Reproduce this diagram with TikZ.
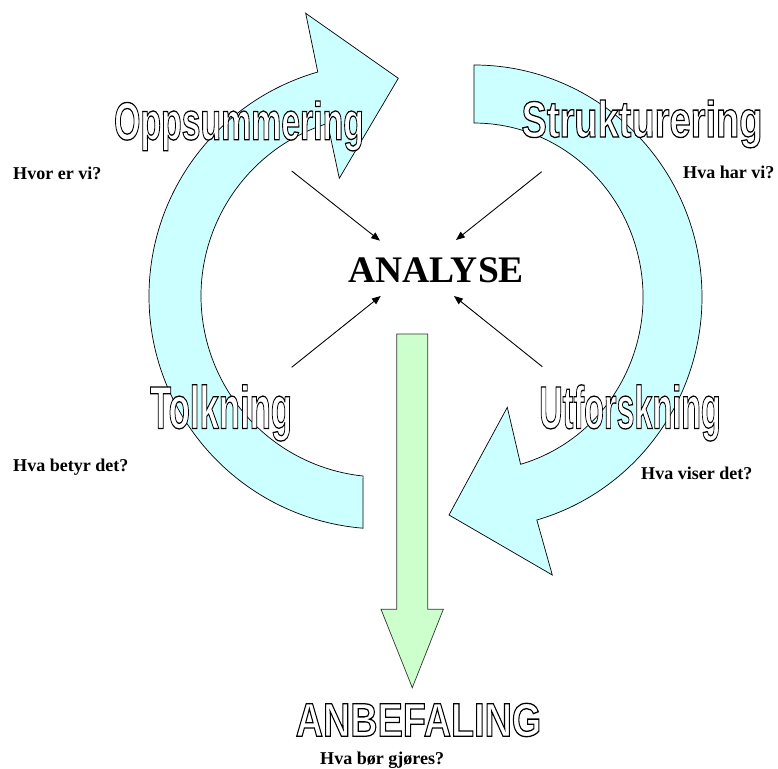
\documentclass[tikz,border=0pt]{standalone}
\usepackage{fontspec}
\setmainfont{Liberation Serif}
\newfontfamily\wordartfont{Liberation Sans}
\usetikzlibrary{arrows.meta}

\definecolor{loopcyan}{HTML}{CCFFFF}
\definecolor{downgreen}{HTML}{CCFFCC}

\tikzset{
  loopshape/.style={draw=black, line width=0.6pt, fill=loopcyan, line join=miter},
  downshape/.style={draw=black!80, line width=0.6pt, fill=downgreen},
  pointer/.style={draw=black, line width=0.75pt, -{Triangle[length=7.5pt,width=6pt]}},
  question/.style={inner sep=0pt, font=\fontsize{15.4pt}{16pt}\selectfont\bfseries},
  centretitle/.style={inner sep=0pt, font=\fontsize{32pt}{34pt}\selectfont\bfseries},
  wordart/.style={inner sep=0pt, font=\wordartfont\bfseries},
}

% hollow letters: text render mode 2 (fill white, stroke black)
\newcommand\rimmedword[5]{% name, position, font size, horizontal scale, text
  \node[wordart] (#1) at (#2)
    {\special{pdf:literal direct q 2 Tr 1.1 w 0 G 1 g}%
     \scalebox{#4}[1]{\fontsize{#3}{#3}\selectfont #5}%
     \special{pdf:literal direct Q}};
}

\begin{document}
\begin{tikzpicture}[x=0.03cm, y=-0.03cm]
  \useasboundingbox[fill=white] (0,0) rectangle (778,769);

  % left curved arrow, running up and to the right
  \draw[loopshape] (362.9,528.2)
    arc[start angle=94.7, end angle=254, radius=233]
    -- (305.7,13.3) -- (398.3,78.3) -- (339.3,178.3)
    -- (327.6,123.4)
    arc[start angle=252.5, end angle=96, radius=181]
    -- cycle;

  % right curved arrow, running down and to the left
  \draw[loopshape] (474,65)
    arc[start angle=-90, end angle=74, x radius=228, y radius=232]
    -- (552.3,575) -- (449,515) -- (507.3,407.3)
    -- (520.6,464.3)
    arc[start angle=74, end angle=-90, x radius=169, y radius=174]
    -- cycle;

  % downward block arrow
  \draw[downshape] (396.7,334) -- (427.7,334) -- (427.7,609.3)
    -- (443.3,609.3) -- (412.3,687.7) -- (381,609.3)
    -- (396.7,609.3) -- cycle;

  % centre word
  \node[centretitle] (analyse) at (436,270) {ANALYSE};

  % pointers towards the centre
  \coordinate (tlstart) at (291.7,171);
  \coordinate (tlend)   at (380,240.7);
  \coordinate (trstart) at (541.7,171.7);
  \coordinate (trend)   at (456,240);
  \coordinate (blstart) at (291.7,367.3);
  \coordinate (blend)   at (380.7,296);
  \coordinate (brstart) at (542.3,366.7);
  \coordinate (brend)   at (454,296);
  \draw[pointer] (tlstart) -- (tlend);
  \draw[pointer] (trstart) -- (trend);
  \draw[pointer] (blstart) -- (blend);
  \draw[pointer] (brstart) -- (brend);

  % stage names
  \rimmedword{oppsum}{239,126}{45.5pt}{0.634}{Oppsummering}
  \rimmedword{struktur}{642,124}{43.6pt}{0.745}{Strukturering}
  \rimmedword{tolk}{221,413}{51.3pt}{0.577}{Tolkning}
  \rimmedword{utfor}{630,413}{51.3pt}{0.538}{Utforskning}
  \rimmedword{anbef}{418.5,720}{40.3pt}{0.80}{ANBEFALING}

  % questions
  \node[question, anchor=base west] (q1) at (13,180) {Hvor er vi?};
  \node[question, anchor=base west] (q2) at (683,179) {Hva har vi?};
  \node[question, anchor=base west] (q3) at (13,472) {Hva betyr det?};
  \node[question, anchor=base west] (q4) at (641,480) {Hva viser det?};
  \node[question, anchor=base west] (q5) at (320,764) {Hva bør gjøres?};
\end{tikzpicture}
\end{document}
